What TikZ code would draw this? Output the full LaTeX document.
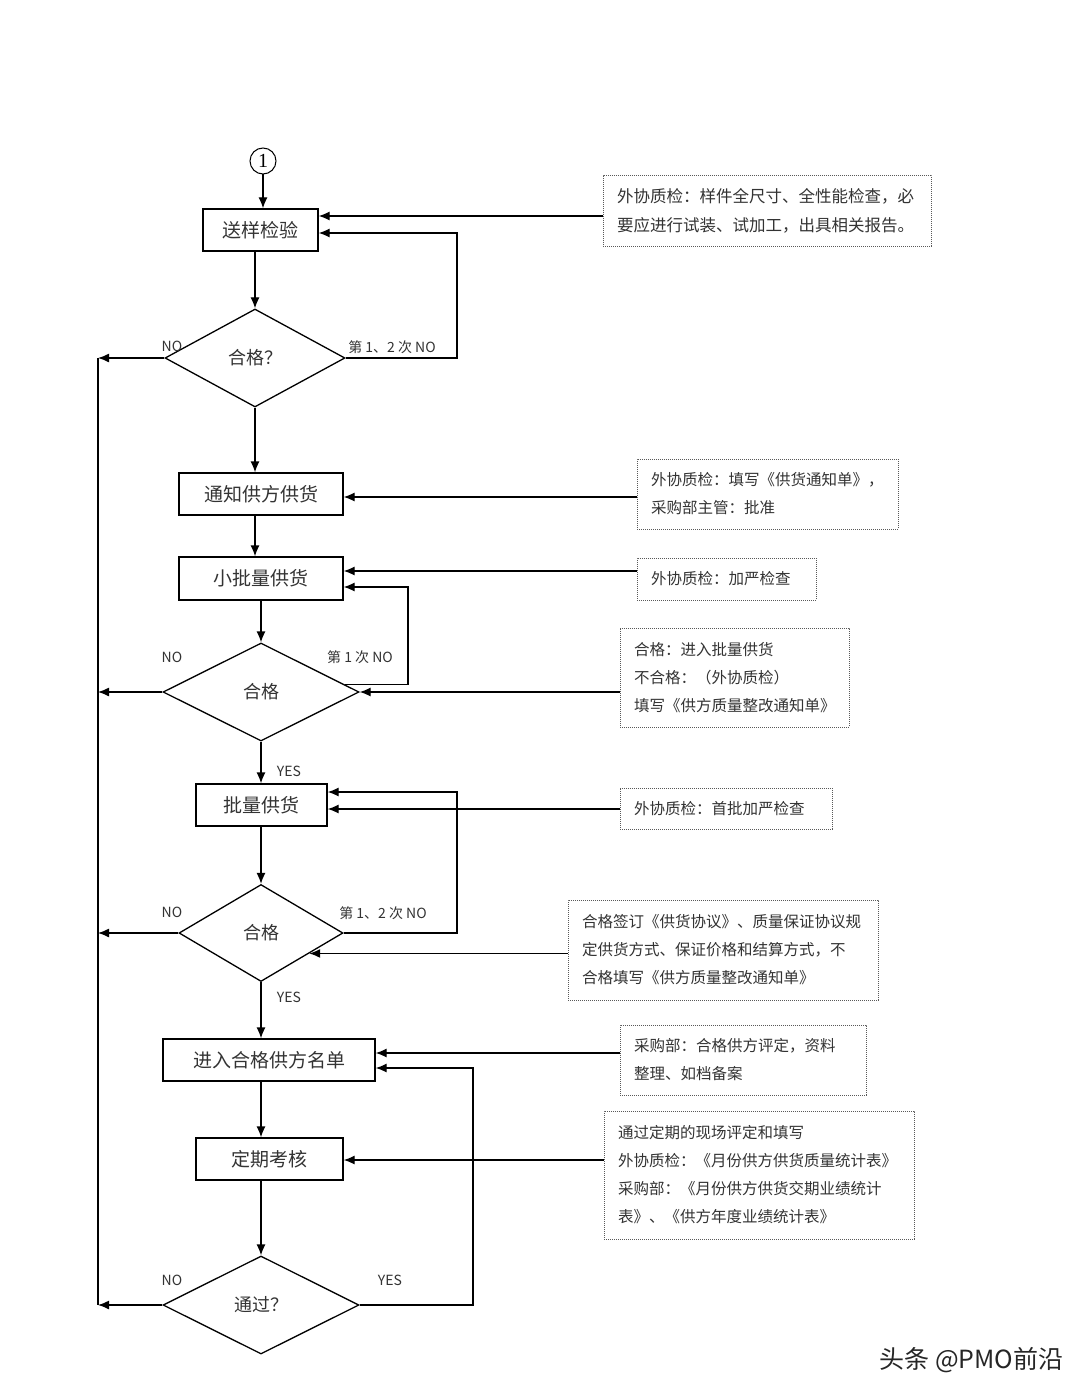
\documentclass[tikz,border=0pt]{standalone}
\usepackage{fontspec}
\setmainfont{Noto Sans CJK SC}
\newfontfamily\latserif{Liberation Serif}
\usetikzlibrary{shapes.geometric,arrows.meta}
\begin{document}
\begin{tikzpicture}[x=1bp,y=-1bp,
  line width=1.3bp,
  arr/.style={-{Latex[length=11bp,width=9bp]}},
  proc/.style={draw, rectangle, inner sep=0, font=\fontsize{19bp}{22bp}\selectfont, text=black!80},
  dec/.style={draw, diamond, inner sep=0, font=\fontsize{18bp}{22bp}\selectfont, text=black!80},
  note/.style={draw=black!65, dash pattern=on 1bp off 1bp, line width=1bp, rectangle, inner xsep=14bp, inner ysep=0, align=left, font=\fontsize{15.5bp}{28bp}\selectfont, text=black!80},
  lbl/.style={font=\fontsize{14bp}{16bp}\selectfont, text=black!80, inner sep=0},
]
\fill[white] (0,0) rectangle (1080,1396);
\useasboundingbox (0,0) rectangle (1080,1396);

% process nodes
\node[draw, circle, minimum size=26bp, inner sep=0, line width=1bp, font=\latserif\fontsize{20bp}{20bp}\selectfont] (c1) at (263,161) {1};
\node[proc, minimum width=115bp, minimum height=42bp] (b1) at (260.5,230) {送样检验};
\node[dec, minimum width=180bp, minimum height=98bp] (d1) at (255,358) {合格？};
\node[proc, minimum width=164bp, minimum height=42bp] (b2) at (261,494) {通知供方供货};
\node[proc, minimum width=164bp, minimum height=43bp] (b3) at (261,578.5) {小批量供货};
\node[dec, minimum width=196bp, minimum height=98bp] (d2) at (261,692) {合格};
\node[proc, minimum width=131bp, minimum height=42bp] (b4) at (261.5,805) {批量供货};
\node[dec, minimum width=164bp, minimum height=97bp] (d3) at (261,933) {合格};
\node[proc, minimum width=212bp, minimum height=42bp] (b5) at (269,1060) {进入合格供方名单};
\node[proc, minimum width=147bp, minimum height=42bp] (b6) at (269.5,1159) {定期考核};
\node[dec, minimum width=196bp, minimum height=98bp] (d4) at (261,1305) {通过？};

% notes
\node[note, font=\fontsize{16.5bp}{29bp}\selectfont, text width=300bp, minimum height=70bp] (n1) at (767,211) {外协质检：样件全尺寸、全性能检查，必\\要应进行试装、试加工，出具相关报告。};
\node[note, text width=233bp, minimum height=70bp] (n2) at (767.5,494) {外协质检：填写《供货通知单》，\\采购部主管：批准};
\node[note, text width=151bp, minimum height=42bp] (n3) at (726.5,579) {外协质检：加严检查};
\node[note, text width=201bp, minimum height=99bp] (n4) at (734.5,677.5) {合格：进入批量供货\\不合格：（外协质检）\\填写《供方质量整改通知单》};
\node[note, text width=184bp, minimum height=41bp] (n5) at (726,808.5) {外协质检：首批加严检查};
\node[note, text width=282bp, minimum height=100bp] (n6) at (723,950) {合格签订《供货协议》、质量保证协议规\\定供货方式、保证价格和结算方式，不\\合格填写《供方质量整改通知单》};
\node[note, text width=218bp, minimum height=70bp] (n7) at (743,1060) {采购部：合格供方评定，资料\\整理、如档备案};
\node[note, text width=282bp, minimum height=128bp] (n8) at (759,1175) {通过定期的现场评定和填写\\外协质检：《月份供方供货质量统计表》\\采购部：《月份供方供货交期业绩统计\\表》、《供方年度业绩统计表》};

% main flow
\draw[arr] (c1) -- (c1 |- b1.north);
\draw[arr] (b1.south -| d1.north) -- (d1.north);
\draw[arr] (d1.south) -- (d1.south |- b2.north);
\draw[arr] (b2.south -| d1.south) -- (b3.north -| d1.south);
\draw[arr] (b3.south -| d2.north) -- (d2.north);
\draw[arr] (d2.south) -- (d2.south |- b4.north);
\draw[arr] (b4.south -| d3.north) -- (d3.north);
\draw[arr] (d3.south) -- (d3.south |- b5.north);
\draw[arr] (b5.south -| d4.north) -- (b6.north -| d4.north);
\draw[arr] (b6.south -| d4.north) -- (d4.north);

% left rail (NO)
\coordinate (rt) at (98,358);
\coordinate (rb) at (98,1305);
\draw (rt) -- (rb);
\draw[arr] (d1.west) -- (d1.west -| rt);
\draw[arr] (d2.west) -- (d2.west -| rt);
\draw[arr] (d3.west) -- (d3.west -| rt);
\draw[arr] (d4.west) -- (d4.west -| rt);

% loops
\coordinate (l1) at (457,233);
\draw[arr] (d1.east) -| (l1) -- (l1 -| b1.east);
\coordinate (l2) at (408,587);
\draw[arr] (d2.5) -| (l2) -- (l2 -| b3.east);
\coordinate (l3) at (457,792);
\draw[arr] (d3.east) -| (l3) -- (l3 -| b4.east);
\coordinate (l4) at (473,1068);
\draw[arr] (d4.east) -| (l4) -- (l4 -| b5.east);

% note connectors
\draw[arr] (n1.west |- 0,216) -- (b1.east |- 0,216);
\draw[arr] (n2.west |- 0,497) -- (b2.east |- 0,497);
\draw[arr] (n3.west |- 0,571) -- (b3.east |- 0,571);
\draw[arr] (n4.west |- d2.east) -- (d2.east);
\draw[arr] (n5.west |- 0,809) -- (b4.east |- 0,809);
\draw[arr] (n6.west |- d3.-23) -- (d3.-23);
\draw[arr] (n7.west |- 0,1053) -- (b5.east |- 0,1053);
\draw[arr] (n8.west |- 0,1160) -- (b6.east |- 0,1160);

% labels
\node[lbl] (no1) at (172,346) {NO};
\node[lbl] (no2) at (172,657) {NO};
\node[lbl] (no3) at (172,912) {NO};
\node[lbl] (no4) at (172,1280) {NO};
\node[lbl] (t1) at (392,347) {第 1、2 次 NO};
\node[lbl] (t2) at (360,657) {第 1 次 NO};
\node[lbl] (t3) at (383,913) {第 1、2 次 NO};
\node[lbl] (y1) at (289,771) {YES};
\node[lbl] (y2) at (289,997) {YES};
\node[lbl] (y3) at (390,1280) {YES};

% watermark
\node[anchor=east, inner sep=0, font=\fontsize{25bp}{25bp}\selectfont, text=black!85] (wm) at (1064,1360) {头条 @PMO前沿};
\end{tikzpicture}
\end{document}
